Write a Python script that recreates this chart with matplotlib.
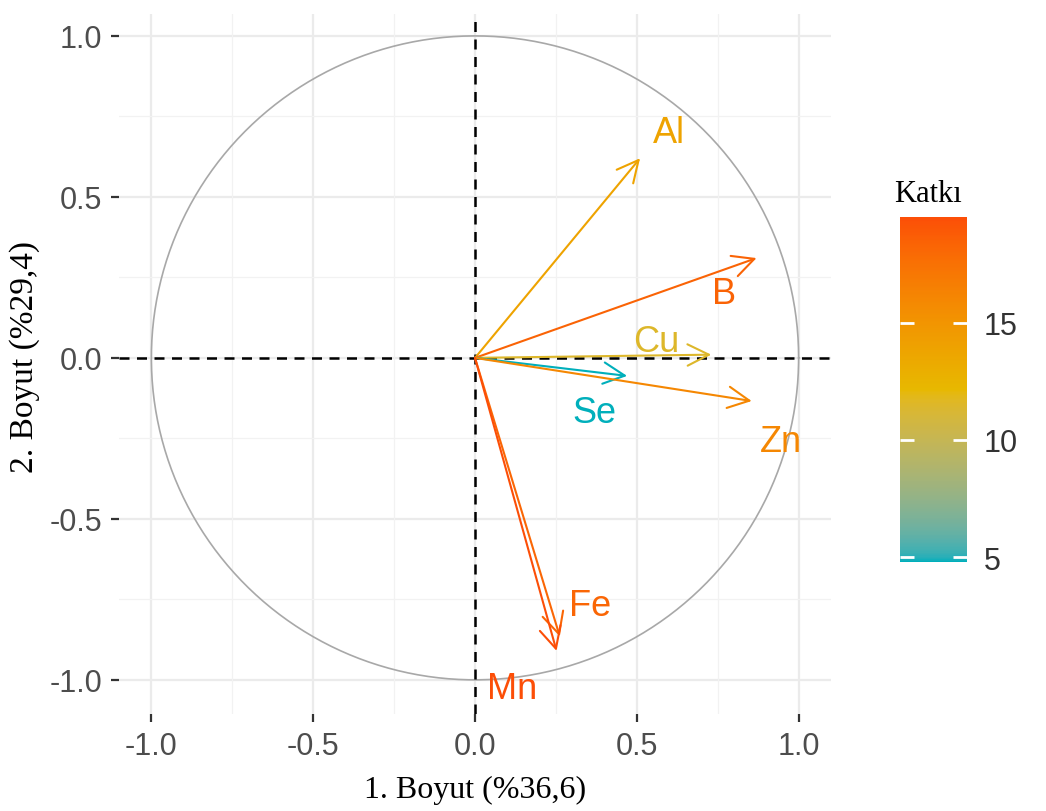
import numpy as np
import matplotlib
matplotlib.use("Agg")
import matplotlib.pyplot as plt
from matplotlib.colors import ListedColormap, Normalize, to_rgb
from matplotlib.cm import ScalarMappable

# ---- data ----
variables = ["Al", "B", "Cu", "Se", "Zn", "Fe", "Mn"]
dim1 = [0.51, 0.87, 0.73, 0.47, 0.855, 0.262, 0.252]
dim2 = [0.62, 0.31, 0.01, -0.056, -0.134, -0.865, -0.91]
contrib = [13.9, 18.4, 11.5, 4.8, 16.0, 18.2, 19.5]
axis_ticks = [-1.0, -0.5, 0.0, 0.5, 1.0]
cbar_ticks = [5, 10, 15]
xlabel = "1. Boyut (%36,6)"
ylabel = "2. Boyut (%29,4)"
legend_title = "Katkı"

# ---- layout (label offsets from arrow tips, data units) ----
label_offset = {
    "Al": (0.09, 0.08), "B": (-0.10, -0.11), "Cu": (-0.17, 0.04),
    "Se": (-0.10, -0.115), "Zn": (0.09, -0.125), "Fe": (0.093, 0.095),
    "Mn": (-0.138, -0.118),
}


# ---- Lab-space gradient (like ggplot's gradientn) ----
def _srgb_to_lab(rgb):
    rgb = np.asarray(rgb, float)
    lin = np.where(rgb <= 0.04045, rgb / 12.92, ((rgb + 0.055) / 1.055) ** 2.4)
    M = np.array([[0.4124, 0.3576, 0.1805], [0.2126, 0.7152, 0.0722],
                  [0.0193, 0.1192, 0.9505]])
    xyz = M @ lin / np.array([0.95047, 1.0, 1.08883])
    f = np.where(xyz > 0.008856, np.cbrt(xyz), 7.787 * xyz + 16 / 116)
    return np.array([116 * f[1] - 16, 500 * (f[0] - f[1]), 200 * (f[1] - f[2])])


def _lab_to_srgb(lab):
    L, a, b = lab
    fy = (L + 16) / 116
    fx = fy + a / 500
    fz = fy - b / 200
    f = np.array([fx, fy, fz])
    xyz = np.where(f ** 3 > 0.008856, f ** 3, (f - 16 / 116) / 7.787)
    xyz = xyz * np.array([0.95047, 1.0, 1.08883])
    Minv = np.array([[3.2406, -1.5372, -0.4986], [-0.9689, 1.8758, 0.0415],
                     [0.0557, -0.2040, 1.0570]])
    lin = Minv @ xyz
    rgb = np.where(lin <= 0.0031308, 12.92 * lin, 1.055 * np.clip(lin, 0, None) ** (1 / 2.4) - 0.055)
    return np.clip(rgb, 0, 1)


stops = [_srgb_to_lab(to_rgb(c)) for c in ["#00AFBB", "#E7B800", "#FC4E07"]]
cols = []
for t in np.linspace(0, 1, 256):
    if t <= 0.5:
        u = t / 0.5
        lab = stops[0] * (1 - u) + stops[1] * u
    else:
        u = (t - 0.5) / 0.5
        lab = stops[1] * (1 - u) + stops[2] * u
    cols.append(_lab_to_srgb(lab))
cmap = ListedColormap(cols)
norm = Normalize(vmin=min(contrib), vmax=max(contrib))

fig = plt.figure(figsize=(10.46, 8.12), dpi=100)
ax = fig.add_axes([119 / 1046, (812 - 715) / 812, 712 / 1046, 700 / 812])
ax.set_xlim(-1.1, 1.1)
ax.set_ylim(-1.106, 1.068)

# grid
for v in [-1.0, -0.5, 0.0, 0.5, 1.0]:
    ax.axvline(v, color="#EBEBEB", lw=1.6, zorder=0)
    ax.axhline(v, color="#EBEBEB", lw=1.6, zorder=0)
for v in [-0.75, -0.25, 0.25, 0.75]:
    ax.axvline(v, color="#F2F2F2", lw=0.9, zorder=0)
    ax.axhline(v, color="#F2F2F2", lw=0.9, zorder=0)

# circle
t = np.linspace(0, 2 * np.pi, 400)
ax.plot(np.cos(t), np.sin(t), color="#A8A8A8", lw=1.2, zorder=1)

# dashed axes
ax.axhline(0, color="black", lw=1.8, ls=(0, (4, 3)), zorder=2)
ax.axvline(0, color="black", lw=1.8, ls=(0, (4, 3)), zorder=2)

for name, x, y, c in zip(variables, dim1, dim2, contrib):
    col = cmap(norm(c))
    ax.annotate("", xy=(x, y), xytext=(0, 0),
                arrowprops=dict(arrowstyle="->,head_length=0.7,head_width=0.35",
                                color=col, lw=1.5, mutation_scale=22,
                                shrinkA=0, shrinkB=0), zorder=3)
    dx, dy = label_offset[name]
    ax.text(x + dx, y + dy, name, color=col, fontsize=26, ha="center",
            va="center", family="Liberation Sans", zorder=4)

for s in ax.spines.values():
    s.set_visible(False)
ax.set_xticks(axis_ticks)
ax.set_yticks(axis_ticks)
ax.set_xticklabels([f"{v:.1f}" for v in axis_ticks])
ax.set_yticklabels([f"{v:.1f}" for v in axis_ticks])
ax.tick_params(axis="both", colors="#333333", labelcolor="#4D4D4D",
               labelsize=22, length=6, width=1.6, pad=6)
for lab in ax.get_xticklabels() + ax.get_yticklabels():
    lab.set_family("Liberation Sans")

fig.text(475 / 1046, 1 - 790 / 812, xlabel, ha="center", va="center",
         fontsize=23, family="Liberation Serif")
fig.text(25 / 1046, 1 - 357 / 812, ylabel, ha="center", va="center",
         fontsize=24, family="Liberation Serif", rotation=90)

# colorbar
cax = fig.add_axes([900 / 1046, (812 - 563) / 812, 67 / 1046, 345 / 812])
sm = ScalarMappable(norm=norm, cmap=cmap)
cb = fig.colorbar(sm, cax=cax, ticks=cbar_ticks)
cb.outline.set_visible(False)
cax.tick_params(axis="y", left=True, right=True, direction="in", length=10,
                width=2, color="white", labelsize=22, labelcolor="#333333", pad=12)
for lab in cax.get_yticklabels():
    lab.set_family("Liberation Sans")
fig.text(928 / 1046, 1 - 195 / 812, legend_title, ha="center", va="center",
         fontsize=22, family="Liberation Serif")

fig.savefig("out.png", dpi=100)
